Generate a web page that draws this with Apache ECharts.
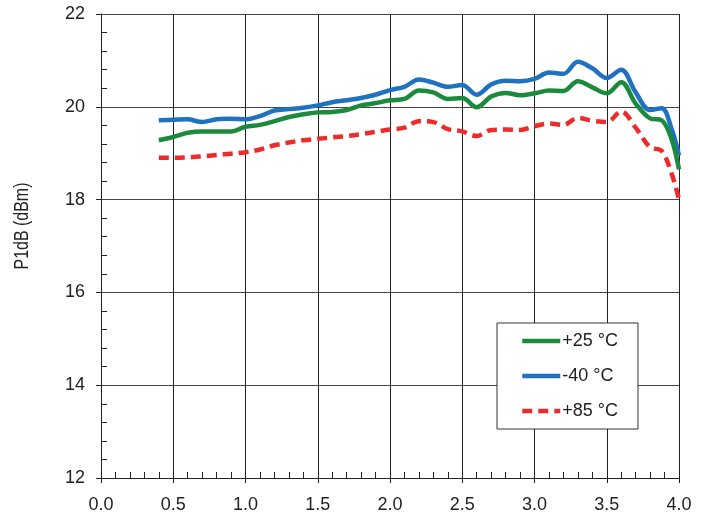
<!DOCTYPE html>
<html>
<head>
<meta charset="utf-8">
<script src="https://cdn.jsdelivr.net/npm/echarts@6/dist/echarts.min.js"></script>
<style>
html,body{margin:0;padding:0;background:#fff;}
#chart{width:710px;height:521px;}
</style>
</head>
<body>
<div id="chart"></div>
<script>
var freq = [0.4,0.5,0.6,0.7,0.8,0.9,1.0,1.1,1.2,1.3,1.4,1.5,1.6,1.7,1.8,1.9,2.0,2.1,2.2,2.3,2.4,2.5,2.6,2.7,2.8,2.9,3.0,3.1,3.2,3.3,3.4,3.5,3.6,3.7,3.8,3.88,3.95,4.0];
var p25 = [19.28,19.35,19.44,19.47,19.47,19.47,19.57,19.61,19.69,19.78,19.84,19.88,19.89,19.93,20.03,20.08,20.14,20.17,20.35,20.31,20.17,20.19,19.99,20.22,20.30,20.25,20.29,20.35,20.34,20.55,20.42,20.29,20.53,20.07,19.75,19.71,19.29,18.65];
var m40 = [19.71,19.72,19.73,19.67,19.73,19.74,19.73,19.80,19.92,19.95,19.98,20.03,20.10,20.14,20.19,20.26,20.36,20.43,20.59,20.52,20.43,20.47,20.26,20.48,20.56,20.55,20.60,20.74,20.71,20.97,20.83,20.62,20.80,20.31,19.93,19.97,19.51,18.95];
var p85 = [18.90,18.90,18.91,18.93,18.96,18.99,19.02,19.08,19.17,19.23,19.28,19.31,19.34,19.37,19.41,19.46,19.51,19.55,19.69,19.67,19.52,19.47,19.37,19.50,19.51,19.50,19.58,19.64,19.61,19.76,19.70,19.67,19.90,19.55,19.13,19.05,18.55,18.00];
var seriesNames = ['+25 °C','-40 °C','+85 °C'];
var yTitle = 'P1dB (dBm)';

function pairs(vals){ return freq.map(function(f,i){ return [f, vals[i]]; }); }

var font = 'Liberation Sans, Arial, sans-serif';
var chart = echarts.init(document.getElementById('chart'), null, {renderer:'canvas'});
chart.setOption({
  animation: false,
  backgroundColor: '#fff',
  grid: {left: 101, right: 31, top: 14, bottom: 43, containLabel: false},
  xAxis: {
    type: 'value', min: 0, max: 4, interval: 0.5,
    axisLine: {show: true, onZero: false, lineStyle: {color: '#222', width: 1}},
    axisTick: {show: true, inside: false, length: 5, lineStyle: {color: '#222'}},
    minorTick: {show: true, splitNumber: 5, length: -6, lineStyle: {color: '#222'}},
    splitLine: {show: true, lineStyle: {color: '#222', width: 1}},
    axisLabel: {color: '#222', fontSize: 18, fontFamily: font, margin: 18,
      formatter: function(v){ return v.toFixed(1); }}
  },
  yAxis: {
    type: 'value', min: 12, max: 22, interval: 2,
    axisLine: {show: true, onZero: false, lineStyle: {color: '#222', width: 1}},
    axisTick: {show: true, inside: false, length: 5, lineStyle: {color: '#222'}},
    minorTick: {show: true, splitNumber: 5, length: -6, lineStyle: {color: '#222'}},
    splitLine: {show: true, lineStyle: {color: '#444', width: 1}},
    axisLabel: {color: '#222', fontSize: 18, fontFamily: font, margin: 16}
  },
  graphic: [{
    type: 'text', x: 22, y: 226, rotation: Math.PI/2, scaleX: 0.76, scaleY: 1,
    style: {text: yTitle, fill: '#222', font: '21px ' + font, textAlign: 'center', textVerticalAlign: 'middle'}
  }],
  legend: {
    orient: 'vertical', left: 497, top: 323,
    padding: [9, 20, 9, 23], itemGap: 17, itemWidth: 38, itemHeight: 14,
    backgroundColor: '#fff', borderColor: '#333', borderWidth: 1,
    selectedMode: false,
    itemStyle: {opacity: 0, borderWidth: 0},
    lineStyle: {width: 4.5},
    textStyle: {color: '#222', fontSize: 18, fontFamily: font, padding: [0,0,0,-3]},
    data: seriesNames
  },
  series: [
    {name: seriesNames[0], type: 'line', data: pairs(p25), smooth: 0.35, symbol: 'none', z: 3,
      lineStyle: {color: '#1b8a3d', width: 4.5}, itemStyle: {color: '#1b8a3d'}},
    {name: seriesNames[1], type: 'line', data: pairs(m40), smooth: 0.35, symbol: 'none', z: 2,
      lineStyle: {color: '#1f72c0', width: 4.5}, itemStyle: {color: '#1f72c0'}},
    {name: seriesNames[2], type: 'line', data: pairs(p85), smooth: 0.35, symbol: 'none', z: 4,
      lineStyle: {color: '#ee2b2b', width: 4.5, type: [10, 6]}, itemStyle: {color: '#ee2b2b'}}
  ]
});
</script>
</body>
</html>
